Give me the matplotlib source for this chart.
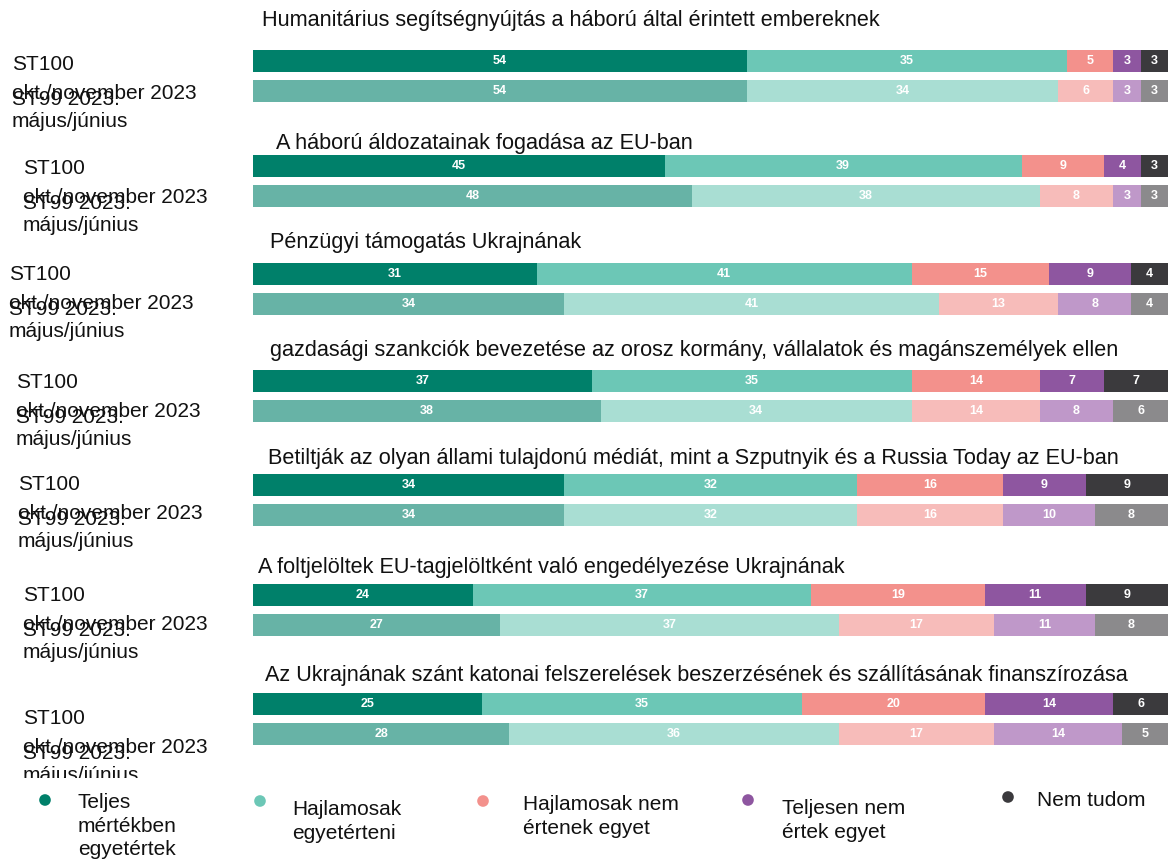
import numpy as np
import matplotlib.pyplot as plt

plt.rcParams['font.family'] = ['Liberation Sans', 'DejaVu Sans']

# Data
titles = [
    'Humanitárius segítségnyújtás a háború által érintett embereknek',
    'A háború áldozatainak fogadása az EU-ban',
    'Pénzügyi támogatás Ukrajnának',
    'gazdasági szankciók bevezetése az orosz kormány, vállalatok és magánszemélyek ellen',
    'Betiltják az olyan állami tulajdonú médiát, mint a Szputnyik és a Russia Today az EU-ban',
    'A foltjelöltek EU-tagjelöltként való engedélyezése Ukrajnának',
    'Az Ukrajnának szánt katonai felszerelések beszerzésének és szállításának finanszírozása',
]
st100 = [
    [54, 35, 5, 3, 3],
    [45, 39, 9, 4, 3],
    [31, 41, 15, 9, 4],
    [37, 35, 14, 7, 7],
    [34, 32, 16, 9, 9],
    [24, 37, 19, 11, 9],
    [25, 35, 20, 14, 6],
]
st99 = [
    [54, 34, 6, 3, 3],
    [48, 38, 8, 3, 3],
    [34, 41, 13, 8, 4],
    [38, 34, 14, 8, 6],
    [34, 32, 16, 10, 8],
    [27, 37, 17, 11, 8],
    [28, 36, 17, 14, 5],
]
categories = ['Teljes\nmértékben\negyetértek', 'Hajlamosak\negyetérteni',
              'Hajlamosak nem\nértenek egyet', 'Teljesen nem\nértek egyet', 'Nem tudom']
label100 = 'ST100\nokt./november 2023'
label99 = 'ST99 2023.\nmájus/június'

colors100 = ['#00806a', '#6cc7b6', '#f3918c', '#8e56a0', '#3b3a3d']
colors99 = ['#67b3a6', '#a9ded3', '#f7bcba', '#bf98c9', '#8b8a8c']

# Layout (pixels of the 1168x863 picture)
W, H = 1168, 863
bar_left, bar_w = 253, 915
group_y = [61, 166, 274, 381, 485, 595, 704]
gap99 = 30
bar_h = 22
title_x = [262, 276, 270, 270, 268, 258, 265]
title_dy = [-41, -23, -32, -31, -27, -28, -29]
label_x = [12, 23, 9, 16, 18, 23, 23]
label_dy = [1, 0, -2, -1, -3, -2, 12]

fig = plt.figure(figsize=(W / 100, H / 100), dpi=100)
ax = fig.add_axes([0, 85 / H, 1, 778 / H])
ax.set_xlim(-bar_left / bar_w * 100, 100)
ax.set_ylim(778, 0)
ax.axis('off')


def px(x):
    return (x - bar_left) / bar_w * 100


narrow = ['Liberation Sans Narrow', 'Liberation Sans', 'DejaVu Sans']

for i in range(len(titles)):
    yc = group_y[i]
    for vals, cols, y in [(st100[i], colors100, yc), (st99[i], colors99, yc + gap99)]:
        left = np.concatenate([[0], np.cumsum(vals)[:-1]])
        ax.barh(y, vals, left=left, height=bar_h, color=cols, edgecolor='none')
        for v, l in zip(vals, left):
            ax.text(l + v / 2, y, str(v), ha='center', va='center', color='white',
                    fontsize=9, fontweight='bold', family=narrow)
    ax.text(px(title_x[i]), yc + title_dy[i], titles[i], ha='left', va='center',
            fontsize=15.6, color='#111111')
    lx = px(label_x[i])
    ly = yc + label_dy[i]
    l1, l2 = label100.split('\n')
    l3, l4 = label99.split('\n')
    for txt, dy in [(l1, 8), (l2, 37), (l3, 43), (l4, 65)]:
        ax.text(lx, ly + dy, txt, ha='left', va='baseline', fontsize=15,
                color='#111111', clip_on=True)

# Legend
lg = fig.add_axes([0, 0, 1, 85 / H])
lg.set_xlim(0, W)
lg.set_ylim(H, 778)
lg.axis('off')
mark_x = [45, 260, 483, 748, 1008]
mark_y = [800, 801, 801, 800, 797]
text_x = [78, 292, 523, 782, 1037]
text_y = [793, 800, 795, 799, 791]
for k, cat in enumerate(categories):
    lg.scatter(mark_x[k], mark_y[k], s=70, color=colors100[k], edgecolors='none')
    lg.text(text_x[k], text_y[k], cat, ha='left', va='top', fontsize=15,
            family=narrow, linespacing=1.3, color='#111111')

fig.savefig('out.png', dpi=100)
